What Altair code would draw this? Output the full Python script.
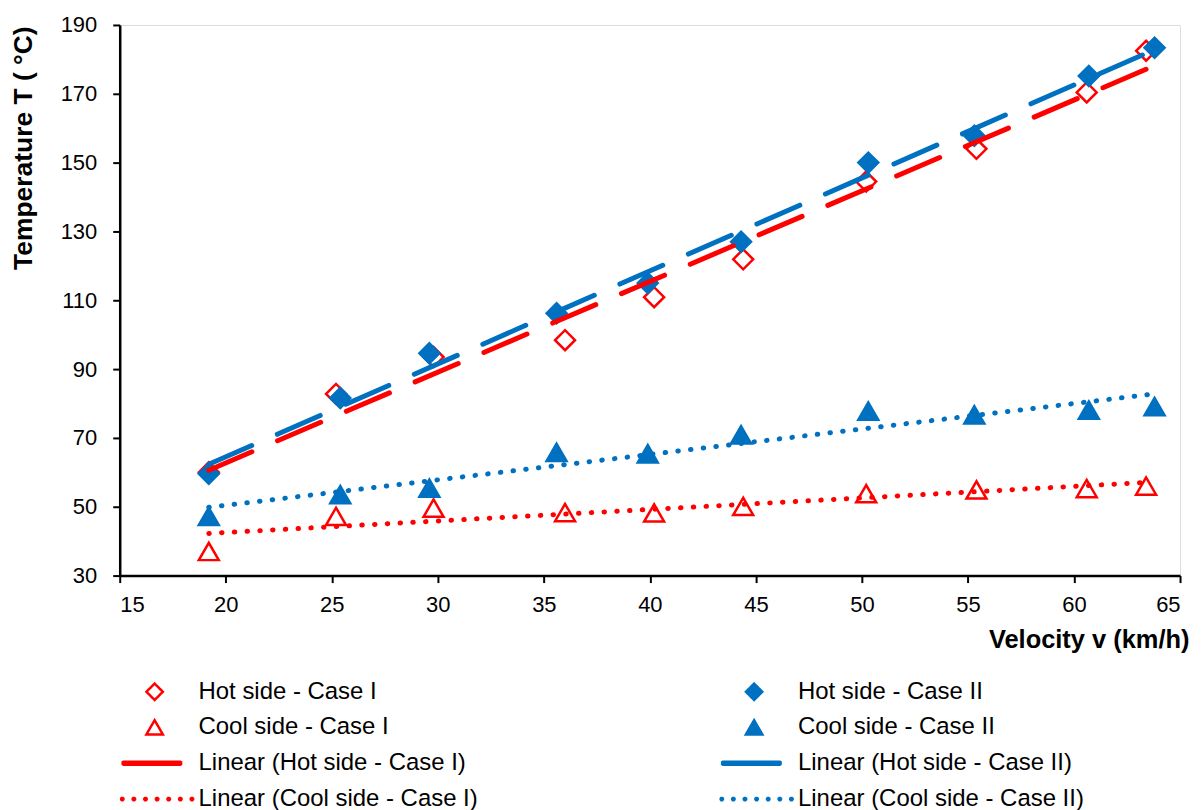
import math
import altair as alt
import pandas as pd

FONT = "Liberation Sans"
RED = "#FF0000"
BLUE = "#0070C0"

# ---- data ----
v_case1 = [19.2, 25.2, 29.8, 36.0, 40.2, 44.4, 50.2, 55.4, 60.6, 63.4]
v_case2 = [19.2, 25.4, 29.6, 35.6, 39.9, 44.3, 50.3, 55.3, 60.7, 63.8]
hot_case1 = [60.0, 82.8, 93.5, 98.4, 110.9, 121.9, 144.5, 154.0, 170.4, 182.5]
hot_case2 = [59.6, 81.6, 94.6, 106.2, 115.0, 127.0, 150.0, 157.8, 175.2, 183.4]
cool_case1 = [37.0, 47.2, 49.6, 48.3, 48.2, 50.1, 53.8, 54.9, 55.3, 56.0]
cool_case2 = [47.2, 53.5, 55.4, 65.8, 65.4, 70.9, 77.8, 76.7, 78.1, 79.1]

# legend order (the legend fills column by column)
legend_order = [
    "Hot side - Case I", "Cool side - Case I",
    "Linear (Hot side - Case I)", "Linear (Cool side - Case I)",
    "Hot side - Case II", "Cool side - Case II",
    "Linear (Hot side - Case II)", "Linear (Cool side - Case II)",
]
x_ticks = [15, 20, 25, 30, 35, 40, 45, 50, 55, 60, 65]
y_ticks = [30, 50, 70, 90, 110, 130, 150, 170, 190]

rows = []
for name, vs, ts in [
    ("Hot side - Case I", v_case1, hot_case1),
    ("Cool side - Case I", v_case1, cool_case1),
    ("Hot side - Case II", v_case2, hot_case2),
    ("Cool side - Case II", v_case2, cool_case2),
]:
    for v, t in zip(vs, ts):
        rows.append({"series": name, "v": v, "T": t})
df = pd.DataFrame(rows)


# ---- legend sample glyphs (unit coords, scaled by sqrt(size)/2) ----
def octagon(cx, rr):
    pts = []
    for k in range(8):
        a = math.radians(22.5 + 45 * k)
        pts.append(f"{cx + rr * math.cos(a):.4f},{rr * math.sin(a):.4f}")
    return "M" + " L".join(pts) + " Z"


def dotted_path():
    n = 7
    x0, x1 = -1.18, 1.36
    step = (x1 - x0) / (n - 1)
    return " ".join(octagon(x0 + i * step, 0.095) for i in range(n))


def bar_path():
    x0, x1, h = -1.15, 0.95, 0.1
    return (f"M{x0},{-h} L{x1},{-h} L{x1 + 0.06},{-h * 0.6} L{x1 + 0.06},{h * 0.6} "
            f"L{x1},{h} L{x0},{h} L{x0 - 0.06},{h * 0.6} L{x0 - 0.06},{-h * 0.6} Z")


BAR = bar_path()
DOTS = dotted_path()

# ---- styles (same order as legend_order) ----
stroke_range = [RED, RED, RED, RED, BLUE, BLUE, BLUE, BLUE]
fill_range = ["transparent", "transparent", RED, RED, BLUE, BLUE, BLUE, BLUE]
shape_range = ["diamond", "triangle-up", BAR, DOTS,
               "diamond", "triangle-up", BAR, DOTS]
dash_range = [[1, 0], [1, 0], [47, 28], [0.5, 12.3],
              [1, 0], [1, 0], [47, 28], [0.5, 12.3]]

leg = alt.Legend(
    title=None, orient="none", legendX=0, legendY=650.5, columns=2,
    columnPadding=241, rowPadding=0, clipHeight=35.2,
    labelFont=FONT, labelFontSize=24, labelColor="#000", labelLimit=600,
    labelOffset=32, symbolOffset=23,
    symbolFillColor="transparent", symbolStrokeColor="#000",
    symbolSize={"expr": "test(/^Linear/, datum.value) ? 3025 : 270"},
    symbolStrokeWidth={"expr": "test(/^Linear/, datum.value) ? 0 : 2.5"},
)

x_axis = alt.Axis(
    values=x_ticks, title="Velocity v (km/h)", grid=False,
    titleFont=FONT, titleFontSize=25.5, titleFontWeight="bold", titleColor="#000",
    titleAlign="right", titleAnchor="end", titleBaseline="middle",
    titleX=1072, titleY=64,
    labelFont=FONT, labelFontSize=22, labelColor="#000", labelPadding=12,
    tickSize=7, tickWidth=2, tickColor="#000", domainColor="#000", domainWidth=2.5,
)
y_axis = alt.Axis(
    values=y_ticks, title="Temperature T ( °C)", grid=False,
    titleFont=FONT, titleFontSize=26.5, titleFontWeight="bold", titleColor="#000",
    titleAngle=270, titleAlign="right", titleBaseline="middle",
    titleX=-96, titleY=1,
    labelFont=FONT, labelFontSize=22, labelColor="#000", labelPadding=16,
    tickSize=7, tickWidth=2, tickColor="#000", domainColor="#000", domainWidth=2.5,
)

xs = alt.Scale(domain=[15, 65], nice=False, zero=False)
ys = alt.Scale(domain=[30, 190], nice=False, zero=False)

base = alt.Chart(df)

points = base.mark_point(size=400, strokeWidth=2.5, opacity=1).encode(
    x=alt.X("v:Q", scale=xs, axis=x_axis),
    y=alt.Y("T:Q", scale=ys, axis=y_axis),
    fill=alt.Fill("series:N", scale=alt.Scale(domain=legend_order, range=fill_range), legend=leg),
    stroke=alt.Stroke("series:N", scale=alt.Scale(domain=legend_order, range=stroke_range), legend=leg),
    shape=alt.Shape("series:N", scale=alt.Scale(domain=legend_order, range=shape_range), legend=leg),
)

lines = base.transform_regression(
    "v", "T", groupby=["series"]
).transform_calculate(
    series="'Linear (' + datum.series + ')'"
).mark_line(strokeWidth=5, strokeCap="round").encode(
    x=alt.X("v:Q", scale=xs, axis=x_axis),
    y=alt.Y("T:Q", scale=ys, axis=y_axis),
    stroke=alt.Stroke("series:N", scale=alt.Scale(domain=legend_order, range=stroke_range), legend=leg),
    strokeDash=alt.StrokeDash("series:N", scale=alt.Scale(domain=legend_order, range=dash_range), legend=leg),
)

chart = alt.layer(points, lines).properties(
    width=1063, height=552,
    padding={"left": 112, "top": 16, "right": 14, "bottom": 234},
    autosize="none",
).configure_view(
    stroke="#000", strokeWidth=2.5
).configure(
    background="white"
)

chart.save("out.html", embed_options={"renderer": "svg", "actions": False})
